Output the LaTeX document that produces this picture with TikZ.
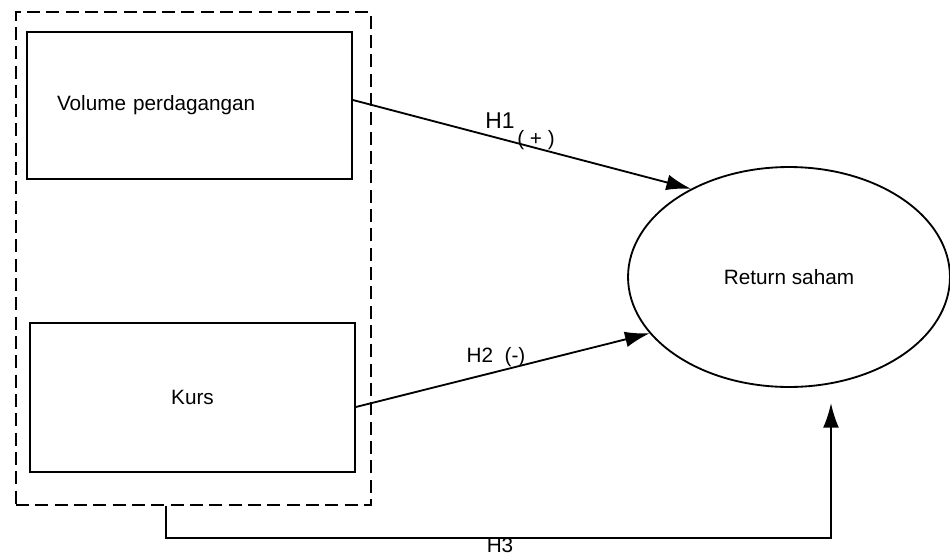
\documentclass[tikz,border=0pt]{standalone}
\usepackage{fontspec}
\setmainfont{Liberation Sans}
\usetikzlibrary{shapes.geometric,arrows.meta}
\begin{document}
\begin{tikzpicture}[x=0.02cm,y=-0.02cm,
  every node/.style={font=\fontsize{11.8}{13}\selectfont},
  box/.style={draw,line width=1.05pt,minimum width=6.5cm,inner sep=0pt},
  grpbox/.style={draw,line width=1.05pt,dash pattern=on 7.4pt off 3.6pt,minimum width=7.1cm,minimum height=9.86cm,inner sep=0pt},
  oval/.style={draw,ellipse,line width=1.05pt,minimum width=6.44cm,minimum height=4.4cm,inner sep=0pt},
  conn/.style={line width=1.05pt,-{Latex[length=14pt,width=9pt]}},
  lbl/.style={inner sep=0pt}]
\useasboundingbox (0,0) rectangle (950,558);
\node[grpbox] (grp) at (193.5,258.5) {};
\node[box,minimum height=2.94cm,text width=5.3cm,inner xsep=0.6cm,align=left] (box1) at (189.5,105.5) {Volume perdagangan};
\node[box,minimum height=2.98cm] (box2) at (192.5,397.5) {Kurs};
\node[oval] (ret) at (789,277) {Return saham};
\draw[conn] ([yshift=0.11cm]box1.east) -- (ret.138);
\draw[conn] ([yshift=-0.19cm]box2.east) -- (ret.202);
\coordinate (h3a) at (166,538);
\coordinate (h3b) at (831,538);
\coordinate (h3end) at (831,403);
\draw[conn] (grp.south -| h3a) -- (h3a) -- (h3b) -- (h3end);
\node[lbl,font=\fontsize{13}{14}\selectfont] (h1) at (500,121) {H1};
\node[lbl] (h1s) at (536,140) {( + )};
\node[lbl] (h2) at (496,357) {H2\ \ (-)};
\node[lbl] (h3) at (500,545) {H3};
\end{tikzpicture}
\end{document}
